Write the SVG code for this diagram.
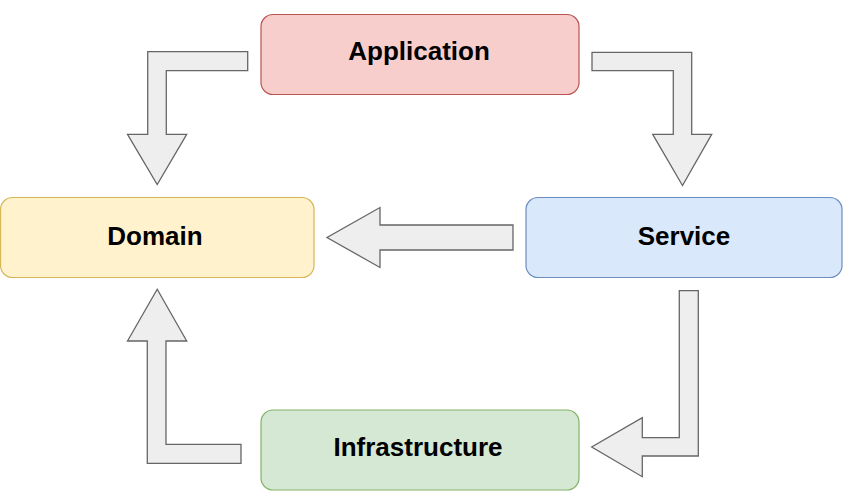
<svg xmlns="http://www.w3.org/2000/svg" width="843" height="496" viewBox="0 0 843 496">
<style>
.box{stroke-width:1.2}
.lbl{font-family:"Liberation Sans",Arial,Helvetica,sans-serif;font-weight:bold;font-size:26px;fill:#000;text-anchor:middle}
.arr{fill:#eeeeee;stroke:#666666;stroke-width:1.3;stroke-linejoin:miter}
</style>
<rect width="843" height="496" fill="#ffffff"/>
<g id="connectors">
<polygon class="arr" points="247.7,51.7 147.7,51.7 147.7,134.3 127.5,134.3 157.2,184.5 186.7,134.3 166.3,134.3 166.3,70.7 247.7,70.7"/>
<polygon class="arr" points="592,52.3 691.7,52.3 691.7,134.3 711.7,134.3 682.5,185.5 652.7,134.3 673.3,134.3 673.3,70.7 592,70.7"/>
<polygon class="arr" points="513,225 380,225 380,207.5 327,237.5 380,267.5 380,250 513,250"/>
<polygon class="arr" points="679.3,290.7 698.3,290.7 698.3,456 642.3,456 642.3,476.7 591.7,447 642.3,417.7 642.3,437.7 679.3,437.7"/>
<polygon class="arr" points="241,463.3 147.3,463.3 147.3,341 127.5,341 157.2,289.3 186.7,341 166,341 166,444.3 241,444.3"/>
</g>
<g id="application">
<rect class="box" x="261" y="14.5" width="318" height="80" rx="12" fill="#f8cecc" stroke="#b85450"/>
<text class="lbl" x="419" y="60">Application</text>
</g>
<g id="domain">
<rect class="box" x="0.5" y="197.5" width="313.5" height="80" rx="12" fill="#fff2cc" stroke="#d6b656"/>
<text class="lbl" x="155" y="244.5">Domain</text>
</g>
<g id="service">
<rect class="box" x="526" y="197.5" width="316" height="80" rx="12" fill="#dae8fc" stroke="#6c8ebf"/>
<text class="lbl" x="684" y="244.5">Service</text>
</g>
<g id="infrastructure">
<rect class="box" x="261" y="410" width="318" height="80" rx="12" fill="#d5e8d4" stroke="#82b366"/>
<text class="lbl" x="418" y="456">Infrastructure</text>
</g>
</svg>
